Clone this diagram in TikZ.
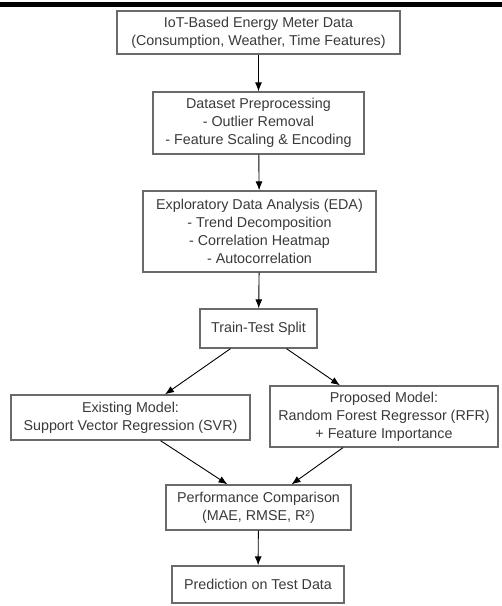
\documentclass[tikz,border=0pt]{standalone}
\usepackage{fontspec}
\setmainfont{Liberation Sans}
\usetikzlibrary{arrows.meta, positioning}
\definecolor{fborder}{HTML}{6A6A6A}
\definecolor{ftext}{HTML}{3A3A3A}
\tikzset{
  fbox/.style={draw=fborder, line width=1.3pt, fill=white, text=ftext, align=center,
               inner sep=2pt, font=\fontsize{14.3}{18}\selectfont},
  arr/.style={-{Latex[length=9pt,width=7pt]}, line width=0.9pt, black},
}
\begin{document}
\begin{tikzpicture}[x=1pt, y=1pt]
  \useasboundingbox (0,0) rectangle (502,-606);
  %% top rule
  \fill[black] (0,-2) rectangle (502,-6.5);

  %% main column
  \node[fbox, minimum width=283pt, minimum height=43pt] (src) at (258.5,-32.5)
    {IoT-Based Energy Meter Data\\(Consumption, Weather, Time Features)};
  \node[fbox, minimum width=211pt, minimum height=62pt] (prep) at (258.5,-123)
    {Dataset Preprocessing\\- Outlier Removal\\- Feature Scaling \& Encoding};
  \node[fbox, minimum width=233pt, minimum height=81pt] (eda) at (259.5,-231.5)
    {Exploratory Data Analysis (EDA)\\- Trend Decomposition\\- Correlation Heatmap\\- Autocorrelation};
  \node[fbox, minimum width=117pt, minimum height=39pt] (split) at (258.5,-328.5)
    {Train-Test Split};

  %% the two models
  \node[fbox, minimum width=239pt, minimum height=45pt] (svr) at (130.5,-417.5)
    {Existing Model:\\Support Vector Regression (SVR)};
  \node[fbox, minimum width=228pt, minimum height=61pt] (rfr) at (384,-416.5)
    {Proposed Model:\\Random Forest Regressor (RFR)\\+ Feature Importance};

  %% evaluation
  \node[fbox, minimum width=185pt, minimum height=45pt] (perf) at (258.5,-507.5)
    {Performance Comparison\\(MAE, RMSE, R²)};
  \node[fbox, minimum width=172pt, minimum height=37pt] (pred) at (258,-584.5)
    {Prediction on Test Data};

  %% connectors
  \draw[arr] (src) -- (prep);
  \draw[arr] (prep) -- (eda);
  \draw[arr] (eda) -- (split);
  \draw[arr] ([xshift=-28pt]split.south) -- ([xshift=34.5pt]svr.north);
  \draw[arr] ([xshift=28pt]split.south) -- ([xshift=-44pt]rfr.north);
  \draw[arr] ([xshift=30pt]svr.south) -- ([xshift=-31pt]perf.north);
  \draw[arr] ([xshift=-41pt]rfr.south) -- ([xshift=33pt]perf.north);
  \draw[arr] (perf) -- (pred);
\end{tikzpicture}
\end{document}
